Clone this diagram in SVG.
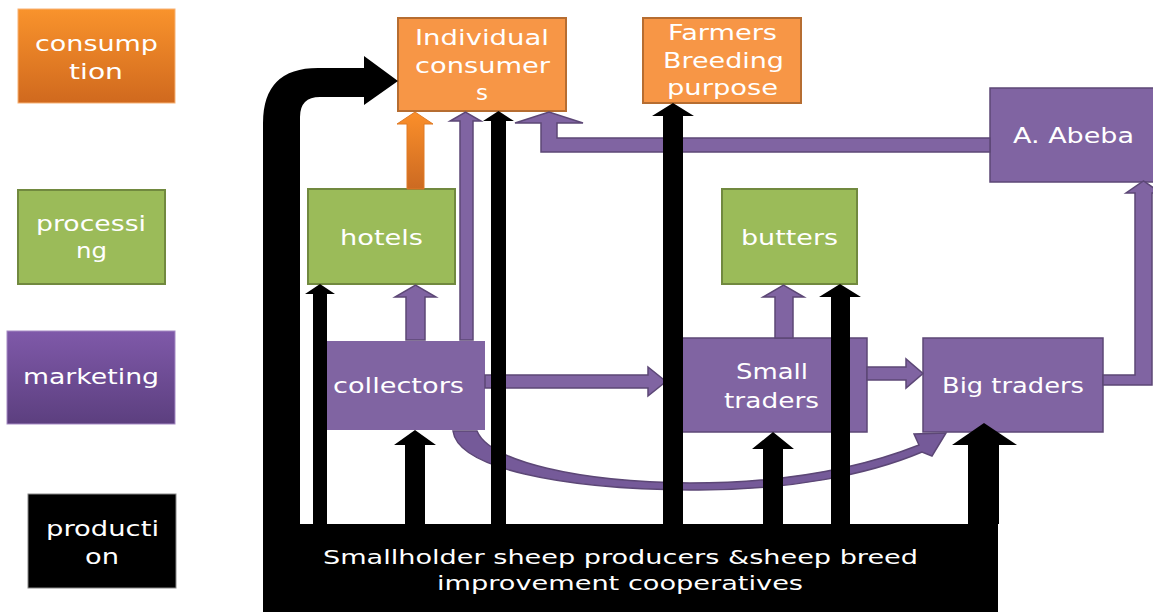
<svg xmlns="http://www.w3.org/2000/svg" width="1153" height="612" viewBox="0 0 1153 612">
<defs>
<linearGradient id="gOr" x1="0" y1="0" x2="0" y2="1"><stop offset="0" stop-color="#f9932c"/><stop offset="1" stop-color="#d0691e"/></linearGradient>
<linearGradient id="gPu" x1="0" y1="0" x2="0" y2="1"><stop offset="0" stop-color="#7f59a9"/><stop offset="1" stop-color="#5c3f7f"/></linearGradient>
<linearGradient id="gOrA" x1="0" y1="0" x2="0" y2="1"><stop offset="0" stop-color="#fb8f2a"/><stop offset="1" stop-color="#cc6a22"/></linearGradient>
</defs>
<style>
.t{font-family:"DejaVu Sans","Open Sans",sans-serif;font-size:22px;fill:#fff}
.b{font-family:"DejaVu Sans","Open Sans",sans-serif;font-size:20px;fill:#fff}
.or{fill:#f79646;stroke:#b66d31;stroke-width:2}
.gr{fill:#9bbb59;stroke:#71893f;stroke-width:2}
.pu{fill:#8064a2;stroke:#5c4776;stroke-width:1.5}
.pa{fill:#8064a2;stroke:#5c4776;stroke-width:1.5;stroke-linejoin:miter}
.bk{fill:#000}
</style>
<rect width="1153" height="612" fill="#fff"/>

<g id="legend-consumption">
<rect x="18" y="9" width="157" height="94" fill="url(#gOr)" stroke="#f7b274" stroke-width="1"/>
<text class="t" x="35" y="51" textLength="123" lengthAdjust="spacingAndGlyphs">consump</text>
<text class="t" x="69" y="79" textLength="54" lengthAdjust="spacingAndGlyphs">tion</text>
</g>
<g id="legend-processing">
<rect x="18" y="190" width="147" height="94" class="gr"/>
<text class="t" x="36" y="231" textLength="110" lengthAdjust="spacingAndGlyphs">processi</text>
<text class="t" x="76" y="258" textLength="31" lengthAdjust="spacingAndGlyphs">ng</text>
</g>
<g id="legend-marketing">
<rect x="7" y="331" width="168" height="93" fill="url(#gPu)" stroke="#a58ac4" stroke-width="1"/>
<text class="t" x="23" y="384" textLength="136" lengthAdjust="spacingAndGlyphs">marketing</text>
</g>
<g id="legend-production">
<rect x="28" y="494" width="148" height="94" fill="#000" stroke="#888" stroke-width="1"/>
<text class="t" x="46" y="536" textLength="113" lengthAdjust="spacingAndGlyphs">producti</text>
<text class="t" x="85" y="564" textLength="34" lengthAdjust="spacingAndGlyphs">on</text>
</g>

<g id="node-individual-consumers">
<rect x="398" y="18" width="168" height="93" class="or"/>
<text class="t" x="415" y="45" textLength="134" lengthAdjust="spacingAndGlyphs">Individual</text>
<text class="t" x="415" y="73" textLength="135" lengthAdjust="spacingAndGlyphs">consumer</text>
<text class="t" x="476" y="100" textLength="12" lengthAdjust="spacingAndGlyphs">s</text>
</g>
<g id="node-farmers">
<rect x="643" y="18" width="158" height="85" class="or"/>
<text class="t" x="668" y="40" textLength="109" lengthAdjust="spacingAndGlyphs">Farmers</text>
<text class="t" x="663" y="68" textLength="121" lengthAdjust="spacingAndGlyphs">Breeding</text>
<text class="t" x="667" y="95" textLength="111" lengthAdjust="spacingAndGlyphs">purpose</text>
</g>
<g id="node-abeba">
<rect x="990" y="88" width="170" height="94" class="pu"/>
<text class="t" x="1013" y="143" textLength="121" lengthAdjust="spacingAndGlyphs">A. Abeba</text>
</g>
<g id="node-hotels">
<rect x="308" y="189" width="147" height="95" class="gr"/>
<text class="t" x="340" y="245" textLength="83" lengthAdjust="spacingAndGlyphs">hotels</text>
</g>
<g id="node-butters">
<rect x="722" y="189" width="135" height="95" class="gr"/>
<text class="t" x="741" y="245" textLength="97" lengthAdjust="spacingAndGlyphs">butters</text>
</g>
<g id="node-collectors">
<rect x="313" y="341" width="172" height="89" fill="#8064a2"/>
<text class="t" x="333" y="393" textLength="131" lengthAdjust="spacingAndGlyphs">collectors</text>
</g>
<g id="node-small-traders">
<rect x="682" y="338" width="185" height="94" class="pu"/>
<text class="t" x="736" y="379" textLength="72" lengthAdjust="spacingAndGlyphs">Small</text>
<text class="t" x="724" y="408" textLength="95" lengthAdjust="spacingAndGlyphs">traders</text>
</g>
<g id="node-big-traders">
<rect x="923" y="338" width="180" height="94" class="pu"/>
<text class="t" x="942" y="393" textLength="142" lengthAdjust="spacingAndGlyphs">Big traders</text>
</g>
<g id="node-producers">
<rect x="263" y="524" width="735" height="88" class="bk"/>
<text class="b" x="323" y="564" textLength="595" lengthAdjust="spacingAndGlyphs">Smallholder sheep producers &amp;sheep breed</text>
<text class="b" x="437" y="590" textLength="366" lengthAdjust="spacingAndGlyphs">improvement cooperatives</text>
</g>

<g id="connectors">
<!-- curved collectors -> big traders -->
<path d="M453,431 C458,468 560,489 690,490 C790,491 870,474 922,452 L932,456 L946,433 L914,434 L919,445 C866,466 790,483 690,483 C580,482 490,462 477,431 Z" fill="#755a99" stroke="#5c4776" stroke-width="1.5"/>
<!-- hotels -> consumers (orange) -->
<path d="M407,189 L407,124 L397,124 L415,112 L433,124 L424,124 L424,189 Z" fill="url(#gOrA)" stroke="#e07a24" stroke-width="1"/>
<!-- collectors -> hotels -->
<path class="pa" d="M406,340 L406,297 L395,297 L415.5,285 L436,297 L425,297 L425,340 Z"/>
<!-- collectors -> consumers -->
<path class="pa" d="M460,340 L460,121 L450,121 L465.5,112 L481,121 L473,121 L473,340 Z"/>
<!-- A. Abeba -> consumers -->
<path class="pa" d="M990,138 L557,138 L557,123 L583,123 L549,112 L515,123 L541,123 L541,152 L990,152 Z"/>
<!-- collectors -> small traders -->
<path class="pa" d="M485,375 L648,375 L648,367 L666,381.5 L648,396 L648,388 L485,388 Z"/>
<!-- small traders -> butters -->
<path class="pa" d="M775,338 L775,297 L763,297 L783.5,285 L804,297 L793,297 L793,338 Z"/>
<!-- small traders -> big traders -->
<path class="pa" d="M867,367 L906,367 L906,359 L923,373.5 L906,388 L906,380 L867,380 Z"/>
<!-- big traders -> A. Abeba -->
<path class="pa" d="M1103,375 L1135,375 L1135,193 L1126,193 L1143.5,181 L1161,193 L1152,193 L1152,385 L1103,385 Z"/>

<!-- black production arrows -->
<path class="bk" d="M263,612 L263,123 Q263,68 318,68 L364,68 L364,56 L398,81 L364,105 L364,97 L320,97 Q300,97 300,117 L300,612 Z"/>
<path class="bk" d="M313,524 L313,294 L305,294 L320,284 L335,294 L327,294 L327,524 Z"/>
<path class="bk" d="M405,524 L405,445 L394,445 L415,430 L436,445 L425,445 L425,524 Z"/>
<path class="bk" d="M491,524 L491,121 L483,121 L498.5,111 L514,121 L506,121 L506,524 Z"/>
<path class="bk" d="M663,524 L663,116 L652,116 L673,103 L694,116 L683,116 L683,524 Z"/>
<path class="bk" d="M763,524 L763,449 L752,449 L773,432 L794,449 L783,449 L783,524 Z"/>
<path class="bk" d="M831,524 L831,297 L819,297 L840,284 L861,297 L850,297 L850,524 Z"/>
<path class="bk" d="M968,524 L968,445 L952,445 L984,423 L1017,445 L999,445 L999,524 Z"/>
</g>
</svg>
